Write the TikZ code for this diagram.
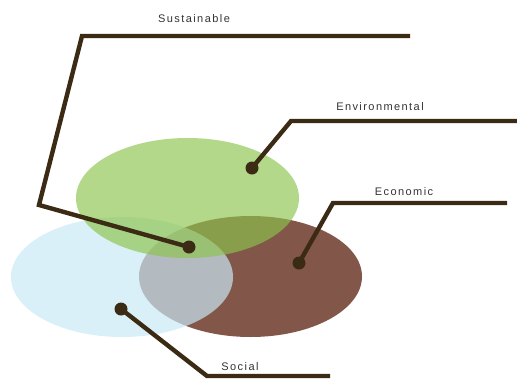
\documentclass[tikz,border=0pt]{standalone}
\usepackage{fontspec}
\setmainfont{Liberation Sans}
\usetikzlibrary{positioning}

\definecolor{envgreen}{RGB}{140,196,76}
\definecolor{socblue}{RGB}{201,233,245}
\definecolor{ecobrown}{RGB}{130,87,74}
\definecolor{leader}{RGB}{59,42,20}

\begin{document}
\begin{tikzpicture}[x=1pt,y=-1pt,
  font=\fontsize{11}{13}\selectfont\addfontfeature{LetterSpace=13},
  dot/.style={circle,fill=leader,inner sep=0pt,minimum size=13pt},
  lead/.style={line width=4.4pt,draw=leader},
  tag/.style={text=black!80,inner sep=1pt},
]
\useasboundingbox (0,0) rectangle (517,378);

% the three circles of the model
\fill[ecobrown] (250.5,276.5) ellipse (111.5 and 60.5);
\fill[socblue,opacity=0.69] (122,277) ellipse (111 and 60);
\fill[envgreen,opacity=0.66] (187.5,198) ellipse (111.5 and 60);

\node[dot] (sus) at (189,247) {};
\node[dot] (env) at (252,168) {};
\node[dot] (eco) at (299,263) {};
\node[dot] (soc) at (121,309) {};

\coordinate (susA) at (39,205);
\coordinate (susB) at (82,36);
\coordinate (susE) at (410,36);
\coordinate (envA) at (291,121);
\coordinate (envE) at (517,121);
\coordinate (ecoA) at (333,203);
\coordinate (ecoE) at (507,203);
\coordinate (socA) at (207,376);
\coordinate (socE) at (330,376);

\draw[lead] (sus.center) -- (susA) -- (susB) -- (susE);
\draw[lead] (env.center) -- (envA) -- (envE);
\draw[lead] (eco.center) -- (ecoA) -- (ecoE);
\draw[lead] (soc.center) -- (socA) -- (socE);

\node[tag] (susl) at (194,19) {Sustainable};
\node[tag] (envl) at (380,107) {Environmental};
\node[tag] (ecol) at (404,192) {Economic};
\node[tag] (socl) at (240,367) {Social};

\end{tikzpicture}
\end{document}
